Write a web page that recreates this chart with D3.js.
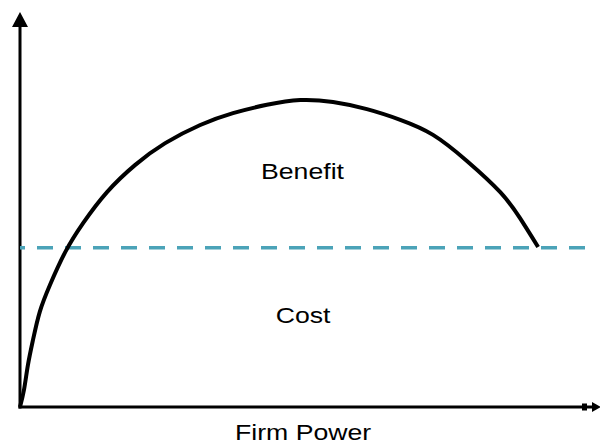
<!DOCTYPE html>
<html>
<head>
<meta charset="utf-8">
<script src="https://cdn.jsdelivr.net/npm/d3@7"></script>
<style>
  body { margin: 0; background: #fff; }
  text { font-family: "Liberation Sans", Arial, sans-serif; fill: #000; }
</style>
</head>
<body>
<script>
// Benefit curve (abstract units 0-100)
var curveX = [0, 0.7, 1.4, 2.3, 3.5, 5.3, 8.0, 11.2, 15.4, 20.4, 25.7, 31.9, 37.7, 43.7, 49.6, 55.4, 61.4, 67.3, 73.1, 79.1, 85.0, 88.5, 91.7];
var curveY = [0, 4.3, 10.6, 17.0, 24.1, 30.9, 39.2, 46.6, 54.4, 61.3, 66.8, 71.4, 74.4, 76.5, 77.7, 77.2, 75.4, 72.7, 68.9, 62.3, 54.4, 47.8, 40.5];
// Cost level (dashed line)
var costLevel = 40.3;
var costExtent = [0, 100];
var labels = ["Benefit", "Cost"];
var labelPos = [[50.0, 57.7], [50.1, 21.3]];
var xTitle = "Firm Power";

var width = 600, height = 444;
var margin = {top: 12, right: 15, bottom: 37, left: 20};

var x = d3.scaleLinear().domain([0, 100]).range([margin.left, width - margin.right]);
var y = d3.scaleLinear().domain([0, 100]).range([height - margin.bottom, margin.top]);

var svg = d3.select("body").append("svg")
    .attr("width", width)
    .attr("height", height);

var x0 = x(0), y0 = y(0);

// axes
svg.append("line")
   .attr("x1", x0).attr("x2", x0)
   .attr("y1", y0 + 1.5).attr("y2", y(100) + 12)
   .attr("stroke", "#000").attr("stroke-width", 3);

svg.append("path")
   .attr("d", "M" + (x0 - 8) + "," + (y(100) + 15) + "L" + x0 + "," + y(100) + "L" + (x0 + 8) + "," + (y(100) + 15) + "Z")
   .attr("fill", "#000");

svg.append("line")
   .attr("x1", x0 - 1.5).attr("x2", 594)
   .attr("y1", y0).attr("y2", y0)
   .attr("stroke", "#000").attr("stroke-width", 3);

svg.append("rect")
   .attr("x", 582).attr("y", y0 - 3.5)
   .attr("width", 5).attr("height", 7)
   .attr("fill", "#000");

svg.append("path")
   .attr("d", "M592," + (y0 - 5) + "L601," + y0 + "L592," + (y0 + 5) + "Z")
   .attr("fill", "#000");

// cost line
svg.append("line")
   .attr("x1", x(costExtent[0])).attr("x2", x(costExtent[1]))
   .attr("y1", y(costLevel)).attr("y2", y(costLevel))
   .attr("stroke", "#4ba3b8")
   .attr("stroke-width", 3.5)
   .attr("stroke-dasharray", "16,12")
   .attr("stroke-dashoffset", 11);

// benefit curve
var line = d3.line()
    .x(function(d, i) { return x(curveX[i]); })
    .y(function(d) { return y(d); })
    .curve(d3.curveNatural);

svg.append("path")
   .attr("d", line(curveY))
   .attr("fill", "none")
   .attr("stroke", "#000")
   .attr("stroke-width", 4);

// text is a bit stretched sideways in the original
svg.selectAll(".lbl")
   .data(labels)
   .enter()
   .append("text")
   .attr("class", "lbl")
   .attr("transform", function(d, i) {
     return "translate(" + x(labelPos[i][0]) + "," + y(labelPos[i][1]) + ") scale(1.24,1)";
   })
   .attr("text-anchor", "middle")
   .attr("font-size", 21.5)
   .text(function(d) { return d; });

svg.append("text")
   .attr("transform", "translate(" + x(50.1) + ",440) scale(1.24,1)")
   .attr("text-anchor", "middle")
   .attr("font-size", 21.5)
   .text(xTitle);
</script>
</body>
</html>
